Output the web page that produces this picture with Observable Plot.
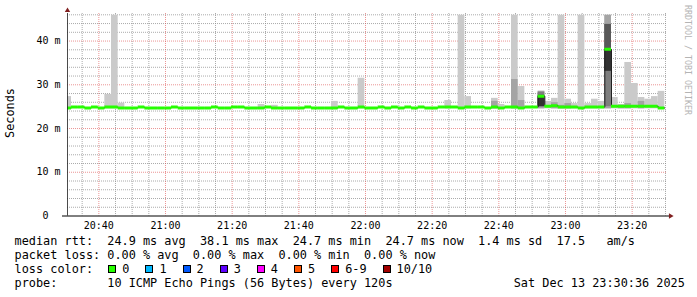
<!DOCTYPE html>
<html><head><meta charset="utf-8">
<script src="https://cdn.jsdelivr.net/npm/d3@7"></script>
<script src="https://cdn.jsdelivr.net/npm/@observablehq/plot@0.6"></script>
<style>
html,body{margin:0;padding:0;background:#fff;}
#wrap{position:relative;width:697px;height:297px;overflow:hidden;font-family:"DejaVu Sans Mono",monospace;color:#000;}
#wrap svg{position:absolute;left:0;top:0;}
.ln{position:absolute;left:14.6px;font-size:11.85px;line-height:14px;height:14px;white-space:pre;}
.items{position:absolute;left:108.3px;top:262px;height:14px;display:flex;align-items:center;font-size:11.85px;white-space:pre;}
.item{display:flex;align-items:center;margin-right:16px;}
.box{width:6px;height:6px;border:1px solid #000;margin-right:6px;}
#ylab{position:absolute;left:10px;top:113px;font-size:11.85px;transform:translate(-50%,-50%) rotate(-90deg);white-space:pre;}
#wm{position:absolute;left:687.5px;top:60px;font-size:8.3px;color:#b4b4b4;transform:translate(-50%,-50%) rotate(90deg);white-space:pre;}
</style></head><body><div id="wrap"></div>
<script>
// ---- time frame ----
const startUTC = Date.UTC(2025, 11, 13, 20, 30, 36);
const endUTC = Date.UTC(2025, 11, 13, 23, 30, 36);
const firstBinUTC = Date.UTC(2025, 11, 13, 20, 29, 48);
const stepMs = 120000;

// ---- tick labels ----
const xTickLabels = ["20:40","21:00","21:20","21:40","22:00","22:20","22:40","23:00","23:20"];
const yTicks = [0, 10, 20, 30, 40];
const yTickLabels = ["0\u00a0\u00a0", "10 m", "20 m", "30 m", "40 m"];

// ---- median RTT per 2-minute bin (ms) ----
const median = [
  24.7,24.9,24.9,24.7,24.9,24.7,24.9,24.9,24.7,24.7,
  24.7,24.9,24.7,24.7,24.7,24.7,24.9,24.7,24.7,24.7,
  24.7,24.7,24.9,24.7,24.7,24.9,24.9,24.7,24.7,24.7,
  24.9,24.7,24.7,24.7,24.7,24.7,24.9,24.7,24.7,24.7,
  24.7,24.9,24.7,24.7,24.9,24.7,24.7,24.9,24.7,24.9,
  24.7,24.9,24.7,24.9,24.7,24.7,24.9,24.9,24.9,24.7,
  24.9,24.9,24.9,24.7,24.9,24.7,24.9,24.9,24.7,24.9,
  24.9,27.4,25.1,25.2,24.9,24.9,24.9,24.7,24.9,24.9,
  24.9,38.1,25.1,25.1,25.1,25.1,25.1,25.1,25.1,24.7
];

// ---- smoke (ping spread) ----
const smokeFloor = 24.5;
const smokeBins = [0,6,7,8,29,31,40,44,57,59,60,64,65,67,68,71,72,73,74,75,76,77,78,79,80,81,82,83,84,85,86,87,88,89];
const smokeMax  = [27.3,27.8,45.9,25.8,25.5,25.3,26.2,31.5,26.4,45.9,27.3,26.9,25.5,45.9,29.6,28.6,26.2,26.9,45.9,26.7,25.7,45.9,25.7,26.7,26.2,45.9,27.1,25.5,35.1,30.3,27.1,26.7,27.3,28.5];
const midBins = [64,67,68,71,73,74,75,81,83,84,86];
const midTop  = [26.2,31.2,26.4,28.45,25.9,25.3,25.7,45.9,25.3,25.7,26.2];
const innerBins = [71, 81];
const layer3Lo = [25.0, 25.0], layer3Hi = [28.3, 43.8];
const layer4Lo = [25.0, 33.1], layer4Hi = [27.6, 43.8];
const layer5Lo = [25.0, 33.1], layer5Hi = [27.3, 38.1];

const smokeColors = ["#cacaca", "#a4a4a4", "#7e7e7e", "#585858", "#323232"];

// ---- loss legend ----
const lossLabels = ["0","1","2","3","4","5","6-9","10/10"];
const lossColors = ["#26ff00","#00b8ff","#0059ff","#5e00ff","#ff00ff","#ff5500","#ff0000","#a10000"];

// ---- build tables ----
const binTime = k => new Date(firstBinUTC + k * stepMs);
const rows = median.map((m, k) => ({t0: binTime(k), t1: binTime(k + 1), median: m}));
const lineRows = rows.map(r => ({t: r.t0, v: r.median})).concat([{t: binTime(median.length), v: median[median.length - 1]}]);
const smoke = [];
smokeBins.forEach((k, i) => smoke.push({t0: binTime(k), t1: binTime(k + 1), lo: smokeFloor, hi: smokeMax[i], layer: 0}));
midBins.forEach((k, i) => smoke.push({t0: binTime(k), t1: binTime(k + 1), lo: smokeFloor, hi: midTop[i], layer: 1}));
innerBins.forEach((k, i) => smoke.push({t0: binTime(k), t1: binTime(k + 1), lo: layer3Lo[i], hi: layer3Hi[i], layer: 2}));
innerBins.forEach((k, i) => smoke.push({t0: binTime(k), t1: binTime(k + 1), lo: layer4Lo[i], hi: layer4Hi[i], layer: 3}));
innerBins.forEach((k, i) => smoke.push({t0: binTime(k), t1: binTime(k + 1), lo: layer5Lo[i], hi: layer5Hi[i], layer: 4}));

const xTicks = xTickLabels.map(s => { const [h, m] = s.split(":").map(Number); return new Date(Date.UTC(2025, 11, 13, h, m)); });
const minorX = d3.utcMinute.every(5).range(new Date(startUTC), new Date(endUTC)).filter(d => d.getUTCMinutes() % 20 !== 0);
const minorY = d3.range(2, 47, 2).filter(v => v % 10 !== 0);
const majorY = [10, 20, 30, 40];
const yMax = 46.3;

const gridStyle = {stroke: "#8f8f8f", strokeOpacity: 0.75, strokeDasharray: "1,1"};
const mgridStyle = {stroke: "#de4f4f", strokeOpacity: 0.6, strokeDasharray: "1,1"};

const chart = Plot.plot({
  width: 697, height: 232,
  marginLeft: 67, marginRight: 30, marginTop: 13, marginBottom: 16.5,
  style: {fontFamily: "DejaVu Sans Mono", fontSize: "10px", background: "transparent", color: "#000", overflow: "visible"},
  x: {type: "utc", domain: [new Date(startUTC), new Date(endUTC)]},
  y: {domain: [0, yMax]},
  marks: [
    Plot.ruleX(minorX, gridStyle),
    Plot.ruleY(minorY, gridStyle),
    Plot.ruleX(xTicks, mgridStyle),
    Plot.ruleY(majorY, mgridStyle),
    Plot.rect(smoke, {x1: "t0", x2: "t1", y1: "lo", y2: "hi", fill: d => smokeColors[d.layer], clip: true}),
    Plot.line(lineRows, {x: "t", y: "v", curve: "step-after", stroke: "#202020", strokeWidth: 1, clip: true}),
    Plot.ruleY(rows, {y: "median", x1: "t0", x2: "t1", stroke: lossColors[0], strokeWidth: 3, clip: true}),
    Plot.ruleX([new Date(startUTC)], {stroke: "#1f1f1f", strokeOpacity: 0.8}),
    Plot.ruleY([0], {stroke: "#000", insetLeft: -5, insetRight: -2}),
    Plot.dot([0], {frameAnchor: "top-left", symbol: "triangle", r: 2, fill: "#801f1f", stroke: null, dy: -3}),
    Plot.dot([0], {frameAnchor: "bottom-right", symbol: "triangle", r: 2, rotate: 90, fill: "#801f1f", stroke: null, dx: 3}),
    Plot.axisX(xTicks, {tickFormat: d3.utcFormat("%H:%M"), tickSize: 0, tickPadding: 6, label: null}),
    Plot.axisY(yTicks, {tickFormat: d => yTickLabels[yTicks.indexOf(d)], tickSize: 0, tickPadding: 7, label: null})
  ]
});

const wrap = document.getElementById("wrap");
wrap.appendChild(chart);

function addLine(text, top) {
  const d = document.createElement("div");
  d.className = "ln"; d.style.top = top + "px"; d.textContent = text;
  wrap.appendChild(d);
}
addLine("median rtt:  24.9 ms avg  38.1 ms max  24.7 ms min  24.7 ms now  1.4 ms sd  17.5   am/s", 234);
addLine("packet loss: 0.00 % avg  0.00 % max  0.00 % min  0.00 % now", 248);
addLine("loss color:", 262);
addLine("probe:       10 ICMP Echo Pings (56 Bytes) every 120s                 Sat Dec 13 23:30:36 2025", 276);

const items = document.createElement("div");
items.className = "items";
lossLabels.forEach((lab, i) => {
  const it = document.createElement("div"); it.className = "item";
  const b = document.createElement("span"); b.className = "box"; b.style.background = lossColors[i];
  const t = document.createElement("span"); t.textContent = lab;
  it.appendChild(b); it.appendChild(t); items.appendChild(it);
});
wrap.appendChild(items);

const yl = document.createElement("div"); yl.id = "ylab"; yl.textContent = "Seconds"; wrap.appendChild(yl);
const wm = document.createElement("div"); wm.id = "wm"; wm.textContent = "RRDTOOL / TOBI OETIKER"; wrap.appendChild(wm);
</script>
</body></html>
